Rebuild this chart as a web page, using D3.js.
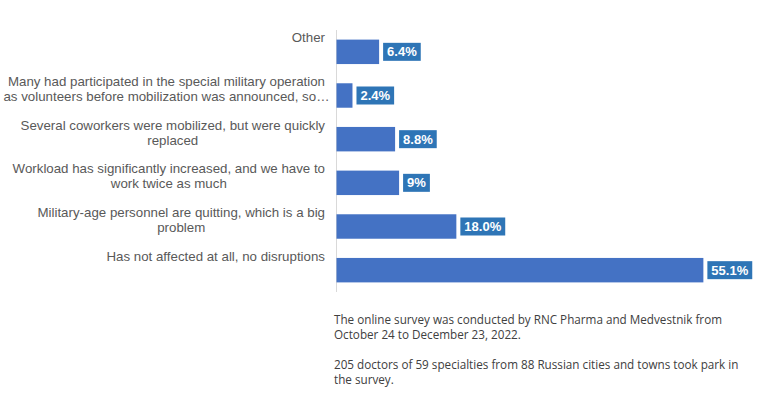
<!DOCTYPE html>
<html>
<head>
<meta charset="utf-8">
<script src="https://cdn.jsdelivr.net/npm/d3@7"></script>
<style>
  body { margin: 0; background: #fff; }
  svg { display: block; }
</style>
</head>
<body>
<svg width="762" height="397"></svg>
<script>
// answers, top to bottom
var categories = [
  ["Other"],
  ["Many had participated in the special military operation", "as volunteers before mobilization was announced, so\u2026"],
  ["Several coworkers were mobilized, but were quickly", "replaced"],
  ["Workload has significantly increased, and we have to", "work twice as much"],
  ["Military-age personnel are quitting, which is a big", "problem"],
  ["Has not affected at all, no disruptions"]
]
var values = [6.4, 2.4, 8.8, 9.4, 18.0, 55.1]
var valueLabels = ["6.4%", "2.4%", "8.8%", "9%", "18.0%", "55.1%"]
var notes = [
  "The online survey was conducted by RNC Pharma and Medvestnik from",
  "October 24 to December 23, 2022.",
  "",
  "205 doctors of 59 specialties from 88 Russian cities and towns took park in",
  "the survey."
]

var svg = d3.select("svg")

var x = d3.scaleLinear()
  .domain([0, 60])
  .range([336.5, 736])

var y = d3.scaleBand()
  .domain(d3.range(categories.length))
  .range([30, 292])
  .paddingInner(0.44)
  .paddingOuter(0.22)

// axis line
svg.append("line")
  .attr("x1", 336.5).attr("x2", 336.5)
  .attr("y1", 30).attr("y2", 292)
  .attr("stroke", "#d9d9d9")

// bars
svg.selectAll("rect.bar")
  .data(values)
  .enter().append("rect")
  .attr("class", "bar")
  .attr("x", x(0))
  .attr("y", (d, i) => y(i))
  .attr("width", d => x(d) - x(0))
  .attr("height", y.bandwidth())
  .attr("fill", "#4472c4")

// category labels: centred lines, block right edge at 325, a line above bar centre
var lab = svg.selectAll("text.cat")
  .data(categories)
  .enter().append("text")
  .attr("class", "cat")
  .attr("text-anchor", "middle")
  .attr("font-family", "Liberation Sans, Arial, sans-serif")
  .attr("font-size", 13.3)
  .attr("fill", "#595959")

lab.each(function (d, i) {
  var t = d3.select(this)
  var first = t.append("tspan").text(d[0])
  var w = first.node().getComputedTextLength()
  var cx = 325 - w / 2
  first.attr("x", cx)
  d.slice(1).forEach(s => t.append("tspan").text(s).attr("x", cx))
  t.selectAll("tspan")
    .attr("y", (s, k) => y(i) + y.bandwidth() / 2 - 14 + 15 * k + 4.6)
})

// value labels in boxes
var vl = svg.selectAll("g.val")
  .data(values)
  .enter().append("g")
  .attr("class", "val")

vl.append("text")
  .attr("x", d => x(d) + 8)
  .attr("y", (d, i) => y(i) + y.bandwidth() / 2 + 4.6)
  .attr("font-family", "Liberation Sans, Arial, sans-serif")
  .attr("font-size", 13)
  .attr("font-weight", "bold")
  .attr("fill", "#fff")
  .text((d, i) => valueLabels[i])

vl.each(function (d, i) {
  var g = d3.select(this)
  var w = g.select("text").node().getComputedTextLength()
  g.insert("rect", "text")
    .attr("x", x(d) + 4)
    .attr("y", y(i) + y.bandwidth() / 2 - 9)
    .attr("width", w + 8)
    .attr("height", 18)
    .attr("fill", "#2e75b6")
})

// footnote
svg.append("g")
  .selectAll("text")
  .data(notes)
  .enter().append("text")
  .attr("x", 334)
  .attr("y", (d, i) => 324 + 15 * i)
  .attr("font-family", "Open Sans, sans-serif")
  .attr("font-size", 11.7)
  .attr("fill", "#404040")
  .text(d => d)
</script>
</body>
</html>
